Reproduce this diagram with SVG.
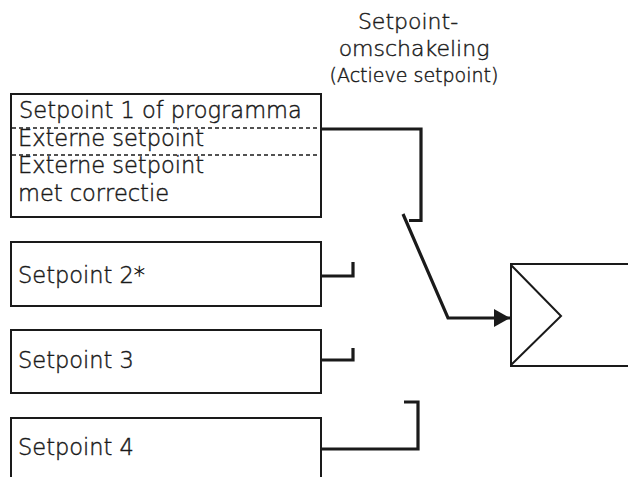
<svg xmlns="http://www.w3.org/2000/svg" width="628" height="477" viewBox="0 0 628 477">
<defs>
<style>
.box{fill:#fff;stroke:#1a1a1a;stroke-width:2}
.open{fill:none;stroke:#1a1a1a;stroke-width:2}
.dash{fill:none;stroke:#1a1a1a;stroke-width:1.6;stroke-dasharray:4 3}
.conn{fill:none;stroke:#1a1a1a;stroke-width:3.2;stroke-linejoin:miter;stroke-linecap:butt}
.t,.h,.s{font-family:"DejaVu Sans","Liberation Sans",sans-serif;font-weight:300;fill:#1a1a1a;stroke:#1a1a1a;stroke-width:0.45}
.t{font-size:22.5px}
.h{font-size:22px;text-anchor:middle}
.s{font-size:19px;text-anchor:middle}
</style>
<marker id="arr" markerWidth="16" markerHeight="18" refX="16" refY="9" orient="auto" markerUnits="userSpaceOnUse">
<path d="M0,0 L16,9 L0,18 Z" fill="#1a1a1a"/>
</marker>
</defs>
<rect width="628" height="477" fill="#fff"/>
<g id="title">
<text class="h" x="408" y="29">Setpoint-</text>
<text class="h" x="414" y="56">omschakeling</text>
<text class="s" x="414" y="82">(Actieve setpoint)</text>
</g>
<g id="sp1">
<rect class="box" x="11" y="94" width="310" height="123"/>
<line class="dash" x1="12" y1="128" x2="320" y2="128"/>
<line class="dash" x1="12" y1="155" x2="320" y2="155"/>
<text class="t" x="19" y="118">Setpoint 1 of programma</text>
<text class="t" x="18" y="146">Externe setpoint</text>
<text class="t" x="18" y="173">Externe setpoint</text>
<text class="t" x="18" y="201">met correctie</text>
</g>
<g id="sp2">
<rect class="box" x="11" y="242" width="310" height="64"/>
<text class="t" x="18" y="283">Setpoint 2*</text>
</g>
<g id="sp3">
<rect class="box" x="11" y="330" width="310" height="63"/>
<text class="t" x="18" y="368">Setpoint 3</text>
</g>
<g id="sp4">
<path class="open" d="M11,478 V418 H321 V478"/>
<text class="t" x="18" y="455">Setpoint 4</text>
</g>
<g id="amp">
<path class="open" d="M630,264 H511 V366 H630"/>
<path class="open" d="M511,265 L561,316 L511,365"/>
</g>
<g id="connectors">
<path class="conn" d="M321,129 H421 V220.5 H409"/>
<path class="conn" d="M321,276 H353 V262"/>
<path class="conn" d="M321,360 H353 V348"/>
<path class="conn" d="M321,449 H418 V402 H404"/>
<path class="conn" d="M403,214 L448,318 H510" marker-end="url(#arr)"/>
</g>
</svg>
